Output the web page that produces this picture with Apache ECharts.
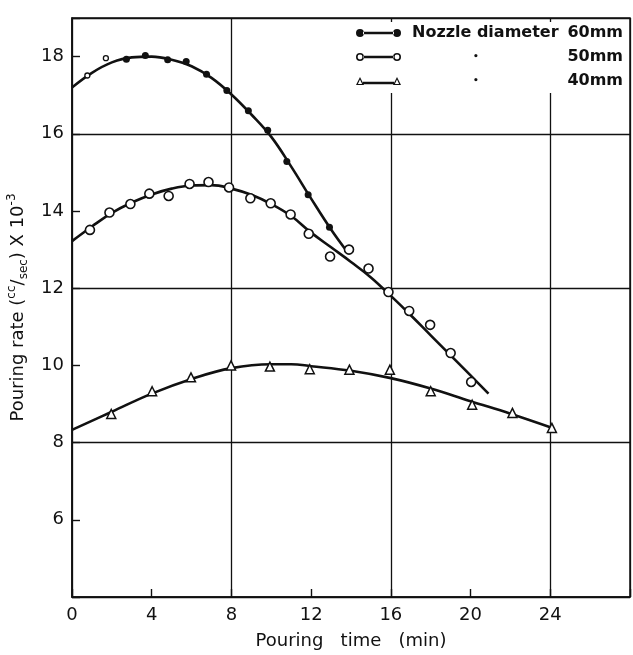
<!DOCTYPE html>
<html><head><meta charset="utf-8">
<script src="https://cdn.jsdelivr.net/npm/echarts@6/dist/echarts.min.js"></script>
<style>html,body{margin:0;padding:0;background:#fff}#c{width:633px;height:655px}</style>
</head><body><div id="c"></div>
<script>
// Tick labels
const xTickLabels = [0, 4, 8, 12, 16, 20, 24];
const yTickLabels = [6, 8, 10, 12, 14, 16, 18];

// Nozzle 60 mm – measured points
const time60early = [0.77, 1.7];
const rate60early = [17.51, 17.96];
const time60 = [2.73, 3.68, 4.8, 5.73, 6.75, 7.77, 8.85, 9.82, 10.78, 11.85, 12.92];
const rate60 = [17.93, 18.03, 17.92, 17.87, 17.54, 17.12, 16.6, 16.09, 15.28, 14.42, 13.58];
// Nozzle 50 mm
const time50 = [0.9, 1.88, 2.93, 3.88, 4.85, 5.9, 6.85, 7.88, 8.95, 9.97, 10.97, 11.88, 12.95, 13.9, 14.88, 15.88, 16.92, 17.97, 19.0, 20.03];
const rate50 = [13.51, 13.96, 14.18, 14.45, 14.39, 14.70, 14.75, 14.61, 14.33, 14.2, 13.91, 13.41, 12.82, 13.0, 12.51, 11.9, 11.41, 11.05, 10.32, 9.57];
// Nozzle 40 mm
const time40 = [1.97, 4.02, 5.97, 7.98, 9.93, 11.93, 13.92, 15.95, 18.0, 20.08, 22.1, 24.08];
const rate40 = [8.74, 9.33, 9.69, 10.0, 9.97, 9.9, 9.89, 9.89, 9.33, 8.98, 8.77, 8.38];

// Fitted curves
const curve60Time = [0, 1, 2, 3, 4, 5, 6, 7, 8, 9, 10, 11, 12, 13, 13.8];
const curve60Rate = [17.2, 17.58, 17.85, 17.98, 18.0, 17.92, 17.75, 17.45, 17.02, 16.5, 15.92, 15.15, 14.32, 13.52, 12.95];
const curve50Time = [0, 1, 2, 3, 4, 5, 6, 7, 8, 9, 10, 11, 12, 13, 14, 15, 16, 17, 18, 19, 20, 20.9];
const curve50Rate = [13.22, 13.6, 13.95, 14.22, 14.43, 14.58, 14.66, 14.67, 14.58, 14.42, 14.18, 13.87, 13.44, 13.06, 12.68, 12.28, 11.8, 11.3, 10.78, 10.26, 9.74, 9.27];
const curve40Time = [0, 2, 4, 6, 8, 10, 11, 12, 14, 16, 18, 20, 22, 24];
const curve40Rate = [8.33, 8.8, 9.27, 9.65, 9.93, 10.03, 10.03, 9.98, 9.86, 9.67, 9.4, 9.07, 8.75, 8.4];

const legendNames = ['60mm', '50mm', '40mm'];

const zip = (a, b) => a.map((v, i) => [v, b[i]]);
const INK = '#111';
const FONT = 'DejaVu Sans';

const iconFilled = 'path://M0,4a4,4 0 1,0 8,0a4,4 0 1,0 -8,0Z M7,2.8H38V5.2H7Z M37,4a4,4 0 1,0 8,0a4,4 0 1,0 -8,0Z';
const iconOpen = 'path://M0,4a4,4 0 1,0 8,0a4,4 0 1,0 -8,0Z M1.6,4a2.4,2.4 0 1,1 4.8,0a2.4,2.4 0 1,1 -4.8,0Z M7.5,2.8H37.5V5.2H7.5Z M37,4a4,4 0 1,0 8,0a4,4 0 1,0 -8,0Z M38.6,4a2.4,2.4 0 1,1 4.8,0a2.4,2.4 0 1,1 -4.8,0Z';
const iconTri = 'path://M0,8L4,0L8,8Z M1.9,6.9L6.1,6.9L4,2.6Z M7,4.8H38V7.2H7Z M37,8L41,0L45,8Z M38.9,6.9L43.1,6.9L41,2.6Z';

const chart = echarts.init(document.getElementById('c'), null, {renderer: 'canvas'});
const curveLine = {type: 'line', smooth: 0.4, showSymbol: false, symbol: 'none', silent: true,
  lineStyle: {color: INK, width: 2.6}, itemStyle: {color: INK}, z: 3};

chart.setOption({
  animation: false,
  backgroundColor: '#fff',
  grid: {left: 72, right: 3, top: 18, bottom: 58, show: true, borderColor: INK, borderWidth: 1.5, containLabel: false, outerBoundsMode: 'none'},
  legend: {
    orient: 'vertical', left: 350, top: 22, padding: [3, 0, 4, 6],
    backgroundColor: '#fff', itemWidth: 45, itemHeight: 8, itemGap: 8,
    selectedMode: false, z: 10,
    itemStyle: {color: INK, borderWidth: 0, borderColor: INK},
    data: [
      {name: legendNames[0], icon: iconFilled},
      {name: legendNames[1], icon: iconOpen},
      {name: legendNames[2], icon: iconTri}
    ],
    formatter: function (name) {
      if (name === legendNames[0]) return '{p| }{a|Nozzle diameter}{v|' + name + '}';
      return '{p| }{dl| }{d|•}{dr| }{v|' + name + '}';
    },
    textStyle: {
      color: INK, fontFamily: FONT, fontSize: 16, fontWeight: 'bold',
      rich: {
        p: {width: 6, lineHeight: 17},
        a: {width: 153, fontSize: 16, fontWeight: 'bold', fontFamily: FONT, color: INK, lineHeight: 17},
        dl: {width: 61, lineHeight: 17},
        d: {width: 6, fontSize: 9, color: INK, lineHeight: 17, align: 'center'},
        dr: {width: 86, lineHeight: 17},
        v: {width: 58, align: 'right', fontSize: 16, fontWeight: 'bold', fontFamily: FONT, color: INK, lineHeight: 17}
      }
    }
  },
  xAxis: [{
    type: 'value', min: 0, max: 28, interval: 4,
    name: 'Pouring   time   (min)', nameLocation: 'middle', nameGap: 35,
    nameTextStyle: {color: INK, fontFamily: FONT, fontSize: 18},
    axisLine: {lineStyle: {color: INK, width: 1.6}},
    axisTick: {inside: true, length: 8, lineStyle: {color: INK, width: 1.4}},
    axisLabel: {color: INK, fontFamily: FONT, fontSize: 18, margin: 9,
      formatter: v => xTickLabels.includes(v) ? String(v) : ''},
    splitLine: {show: false}
  }, {
    type: 'value', min: 0, max: 28, interval: 8, position: 'bottom',
    axisLine: {show: false}, axisTick: {show: false}, axisLabel: {show: false},
    splitLine: {show: true, lineStyle: {color: INK, width: 1.3}}
  }],
  yAxis: [{
    type: 'value', min: 4, max: 19, interval: 2,
    name: '{n|Pouring rate (}{sup|cc}{n|/}{sub|sec}{n|) X 10}{sup|-3}',
    nameLocation: 'middle', nameGap: 35, nameRotate: 90,
    nameTextStyle: {
      color: INK, fontFamily: FONT, fontSize: 18,
      rich: {
        n: {fontSize: 18, fontFamily: FONT, color: INK, lineHeight: 24, verticalAlign: 'middle'},
        sup: {fontSize: 12, fontFamily: FONT, color: INK, lineHeight: 24, verticalAlign: 'top'},
        sub: {fontSize: 12, fontFamily: FONT, color: INK, lineHeight: 24, verticalAlign: 'bottom'}
      }
    },
    axisLine: {lineStyle: {color: INK, width: 1.6}},
    axisTick: {inside: true, length: 8, lineStyle: {color: INK, width: 1.4}},
    axisLabel: {color: INK, fontFamily: FONT, fontSize: 18, margin: 8,
      formatter: v => yTickLabels.includes(v) ? String(v) : ''},
    splitLine: {show: false}
  }, {
    type: 'value', min: 4, max: 19, interval: 4, position: 'left',
    axisLine: {show: false}, axisTick: {show: false}, axisLabel: {show: false},
    splitLine: {show: true, lineStyle: {color: INK, width: 1.3}}
  }],
  series: [
    Object.assign({}, curveLine, {name: 'c60', data: zip(curve60Time, curve60Rate)}),
    Object.assign({}, curveLine, {name: 'c50', data: zip(curve50Time, curve50Rate)}),
    Object.assign({}, curveLine, {name: 'c40', data: zip(curve40Time, curve40Rate)}),
    {type: 'scatter', name: legendNames[0], data: zip(time60, rate60), symbol: 'circle', symbolSize: 7,
      itemStyle: {color: INK, opacity: 1}, z: 5},
    {type: 'scatter', name: 'e60', data: zip(time60early, rate60early), symbol: 'circle', symbolSize: 5,
      itemStyle: {color: '#fff', borderColor: INK, borderWidth: 1.3, opacity: 1}, z: 5},
    {type: 'scatter', name: legendNames[1], data: zip(time50, rate50), symbol: 'circle', symbolSize: 9,
      itemStyle: {color: '#fff', borderColor: INK, borderWidth: 1.6, opacity: 1}, z: 5},
    {type: 'scatter', name: legendNames[2], data: zip(time40, rate40), symbol: 'triangle', symbolSize: 9,
      itemStyle: {color: '#fff', borderColor: INK, borderWidth: 1.5, opacity: 1}, z: 5}
  ]
});
</script></body></html>
